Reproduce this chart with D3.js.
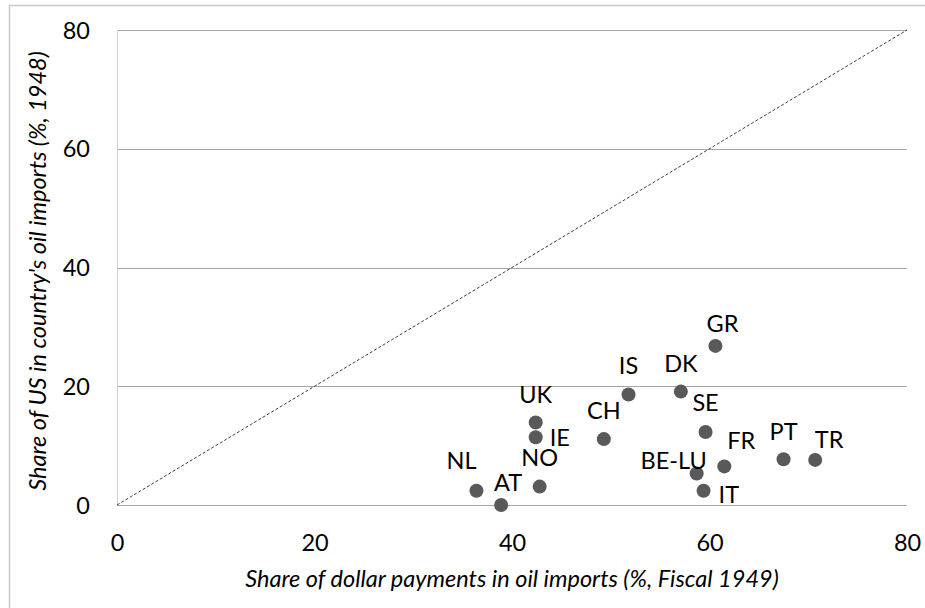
<!DOCTYPE html>
<html><head><meta charset="utf-8">
<script src="https://cdn.jsdelivr.net/npm/d3@7"></script>
<style>body{margin:0;background:#fff}svg{display:block}</style></head>
<body>
<svg id="c" width="925" height="608"></svg>
<script>
// ---- data ----
const countries   = ["GR","IS","DK","SE","UK","IE","CH","NL","AT","NO","BE-LU","IT","FR","PT","TR"];
const dollarShare = [60.6,51.8,57.1,59.6,42.4,42.4,49.3,36.4,38.9,42.8,58.7,59.4,61.5,67.5,70.7];
const usShare     = [26.8,18.6,19.1,12.3,13.9,11.4,11.1,2.4,0.0,3.1,5.3,2.4,6.5,7.7,7.6];
const xTicks = [0,20,40,60,80];
const yTicks = [0,20,40,60,80];
const xTitle = "Share of dollar payments in oil imports (%, Fiscal 1949)";
const yTitle = "Share of US in country's oil imports (%, 1948)";

// ---- label placement (style) ----
const labelPlacement = {
  "GR":{a:"middle",dx:7,dy:-22}, "IS":{a:"middle",dx:0,dy:-29}, "DK":{a:"middle",dx:0,dy:-28},
  "SE":{a:"middle",dx:0,dy:-29}, "UK":{a:"middle",dx:0,dy:-28}, "IE":{a:"start",dx:14,dy:0},
  "CH":{a:"middle",dx:0,dy:-28}, "NL":{a:"middle",dx:-15,dy:-30}, "AT":{a:"middle",dx:7,dy:-22},
  "NO":{a:"middle",dx:0,dy:-29}, "BE-LU":{a:"middle",dx:-23,dy:-13}, "IT":{a:"start",dx:15,dy:4},
  "FR":{a:"middle",dx:17,dy:-26}, "PT":{a:"middle",dx:0,dy:-28}, "TR":{a:"middle",dx:14,dy:-20}
};

const svg = d3.select("#c");
const FONT = "Lato, 'Open Sans', sans-serif";
const x = d3.scaleLinear().domain([0,80]).range([117,907]);
const y = d3.scaleLinear().domain([0,80]).range([505,30]);

// outer chart border
svg.append("rect").attr("x",9.5).attr("y",5.5).attr("width",940).attr("height",640)
  .attr("fill","none").attr("stroke","#c8c8c8").attr("stroke-width",1.5);

// gridlines
svg.append("g").selectAll("line").data(yTicks).join("line")
  .attr("x1",x(0)).attr("x2",x(80))
  .attr("y1",d=>Math.round(y(d))+0.5).attr("y2",d=>Math.round(y(d))+0.5)
  .attr("stroke","#a6a6a6").attr("stroke-width",1);
// left plot border
svg.append("line").attr("x1",x(0)+0.5).attr("x2",x(0)+0.5).attr("y1",y(80)).attr("y2",y(0))
  .attr("stroke","#d0d0d0").attr("stroke-width",1);

// axes (labels only)
const xAxis = svg.append("g").attr("transform",`translate(0,${y(0)})`)
  .call(d3.axisBottom(x).tickValues(xTicks).tickSize(0).tickPadding(0));
xAxis.select(".domain").remove();
xAxis.selectAll("text").attr("y",38).attr("dy","0.35em")
  .attr("font-family",FONT).attr("font-size",23.5).attr("fill","#000");

const yAxis = svg.append("g").attr("transform",`translate(90,0)`)
  .call(d3.axisLeft(y).tickValues(yTicks).tickSize(0).tickPadding(0));
yAxis.select(".domain").remove();
yAxis.selectAll("text").attr("x",0).attr("dy","0.35em")
  .attr("font-family",FONT).attr("font-size",23.5).attr("fill","#000");

// diagonal 45-degree reference line
svg.append("line").attr("x1",x(0)).attr("y1",y(0)).attr("x2",x(80)).attr("y2",y(80))
  .attr("stroke","#404040").attr("stroke-width",1).attr("stroke-dasharray","3,2");

// points
const data = countries.map((c,i)=>({c, xv:dollarShare[i], yv:usShare[i]}));
svg.append("g").selectAll("circle").data(data).join("circle")
  .attr("cx",d=>x(d.xv)).attr("cy",d=>y(d.yv)).attr("r",7).attr("fill","#595959");

// labels
svg.append("g").selectAll("text").data(data).join("text")
  .attr("x",d=>x(d.xv)+labelPlacement[d.c].dx)
  .attr("y",d=>y(d.yv)+labelPlacement[d.c].dy)
  .attr("dy","0.35em").attr("text-anchor",d=>labelPlacement[d.c].a)
  .attr("font-family",FONT).attr("font-size",23.5).attr("fill","#000")
  .text(d=>d.c);

// axis titles
svg.append("text").attr("x",(x(0)+x(80))/2).attr("y",579).attr("dy","0.35em")
  .attr("text-anchor","middle").attr("font-family",FONT).attr("font-style","italic")
  .attr("font-size",23.5).attr("fill","#000").text(xTitle);
svg.append("text").attr("transform",`translate(38,271) rotate(-90)`)
  .attr("dy","0.35em").attr("text-anchor","middle").attr("font-family",FONT)
  .attr("font-style","italic").attr("font-size",23.5).attr("fill","#000").text(yTitle);
</script>
</body></html>
